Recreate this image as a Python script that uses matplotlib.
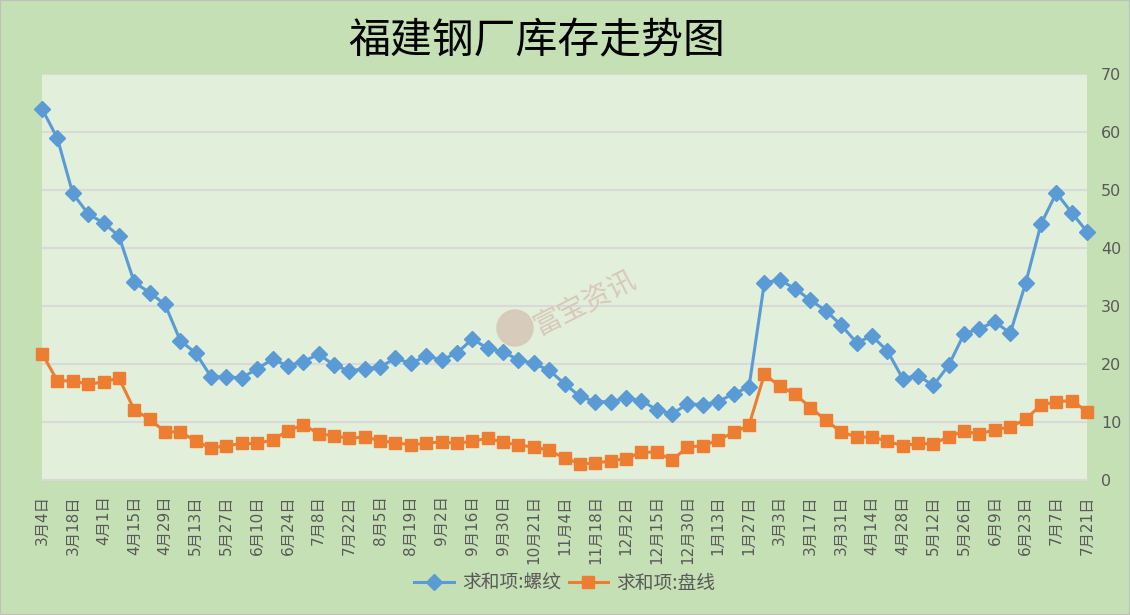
import matplotlib
matplotlib.use("Agg")
import matplotlib.pyplot as plt
from matplotlib.patches import Circle, Rectangle

plt.rcParams['font.family'] = ['Noto Sans CJK SC', 'DejaVu Sans']

# data (weekly, category axis, every other date labelled)
tick_labels = ["3月4日", "3月18日", "4月1日", "4月15日", "4月29日", "5月13日", "5月27日",
               "6月10日", "6月24日", "7月8日", "7月22日", "8月5日", "8月19日", "9月2日",
               "9月16日", "9月30日", "10月21日", "11月4日", "11月18日", "12月2日", "12月15日",
               "12月30日", "1月13日", "1月27日", "3月3日", "3月17日", "3月31日", "4月14日",
               "4月28日", "5月12日", "5月26日", "6月9日", "6月23日", "7月7日", "7月21日"]

rebar = [64.0, 58.9, 49.4, 45.9, 44.3, 42.1, 34.1, 32.3, 30.3, 24.0,
         21.9, 17.8, 17.8, 17.6, 19.2, 20.8, 19.7, 20.4, 21.7, 19.8,
         18.8, 19.2, 19.5, 21.0, 20.1, 21.4, 20.7, 21.9, 24.3, 22.7,
         22.1, 20.7, 20.1, 18.9, 16.6, 14.4, 13.5, 13.5, 14.1, 13.7,
         12.1, 11.4, 13.1, 13.0, 13.5, 14.9, 16.0, 34.0, 34.5, 33.0,
         31.0, 29.2, 26.7, 23.7, 24.8, 22.3, 17.5, 18.0, 16.3, 19.8,
         25.2, 26.1, 27.3, 25.3, 33.9, 44.1, 49.5, 46.1, 42.8]

wire = [21.8, 17.1, 17.1, 16.5, 16.9, 17.6, 12.1, 10.5, 8.3, 8.3,
        6.7, 5.5, 5.9, 6.3, 6.3, 6.9, 8.5, 9.5, 8.0, 7.6,
        7.2, 7.4, 6.8, 6.4, 6.1, 6.3, 6.6, 6.3, 6.7, 7.2,
        6.5, 6.0, 5.7, 5.1, 3.8, 2.8, 2.9, 3.3, 3.7, 4.8,
        4.8, 3.4, 5.7, 5.9, 6.9, 8.2, 9.4, 18.2, 16.2, 14.8,
        12.5, 10.3, 8.3, 7.4, 7.4, 6.7, 5.9, 6.3, 6.2, 7.5,
        8.4, 7.9, 8.7, 9.1, 10.5, 12.9, 13.5, 13.7, 11.8]

x = list(range(len(rebar)))

fig = plt.figure(figsize=(11.3, 6.15), dpi=100, facecolor='#C5E0B4')
fig.patches.append(Rectangle((0, 0), 1, 1, transform=fig.transFigure, fill=False,
                             edgecolor='#BFBFBF', linewidth=1.5))
ax = fig.add_axes([0.0372, 0.2195, 0.9248, 0.6602])
ax.set_facecolor('#E2EFDA')

ax.plot(x, rebar, color='#5B9BD5', linewidth=2.2, marker='D', markersize=8,
        label='求和项:螺纹', clip_on=False, zorder=3)
ax.plot(x, wire, color='#ED7D31', linewidth=2.2, marker='s', markersize=9,
        label='求和项:盘线', clip_on=False, zorder=3)

ax.set_xlim(0, len(x) - 1)
ax.set_ylim(0, 70)
ax.set_yticks(range(0, 71, 10))
ax.yaxis.tick_right()
ax.tick_params(axis='y', length=0, pad=10, labelcolor='#595959')
for lab in ax.get_yticklabels():
    lab.set_family(['DejaVu Sans'])
    lab.set_fontsize(11.5)
ax.set_xticks(x[::2])
ax.set_xticklabels(tick_labels, rotation=90, fontsize=11, color='#595959',
                   family=['DejaVu Sans', 'Noto Sans CJK SC'])
ax.tick_params(axis='x', length=0, pad=11)
ax.grid(axis='y', color='#D9D9D9', linewidth=1.5)
ax.set_axisbelow(True)
for side in ['top', 'left', 'right']:
    ax.spines[side].set_visible(False)
ax.spines['bottom'].set_color('#D9D9D9')
ax.spines['bottom'].set_linewidth(1.5)

fig.text(0.4748, 0.932, '福建钢厂库存走势图', ha='center', va='center', fontsize=30.2, color='black')

# watermark
fig.patches.append(Circle((515, 615 - 328), 18, transform=None, color='#D6C9B8', alpha=0.9, zorder=2))
fig.text(585, 615 - 303, '富宝资讯', transform=None, rotation=27, ha='center', va='center',
         fontsize=20, color='#D8C8BC', zorder=2)

ax.legend(loc='center', bbox_to_anchor=(0.5, 0.052), bbox_transform=fig.transFigure, ncol=2,
          frameon=False, fontsize=13.5, labelcolor='#595959', handlelength=2.1, columnspacing=0.4,
          handletextpad=0.45)

fig.savefig('out.png', dpi=100, facecolor=fig.get_facecolor())
